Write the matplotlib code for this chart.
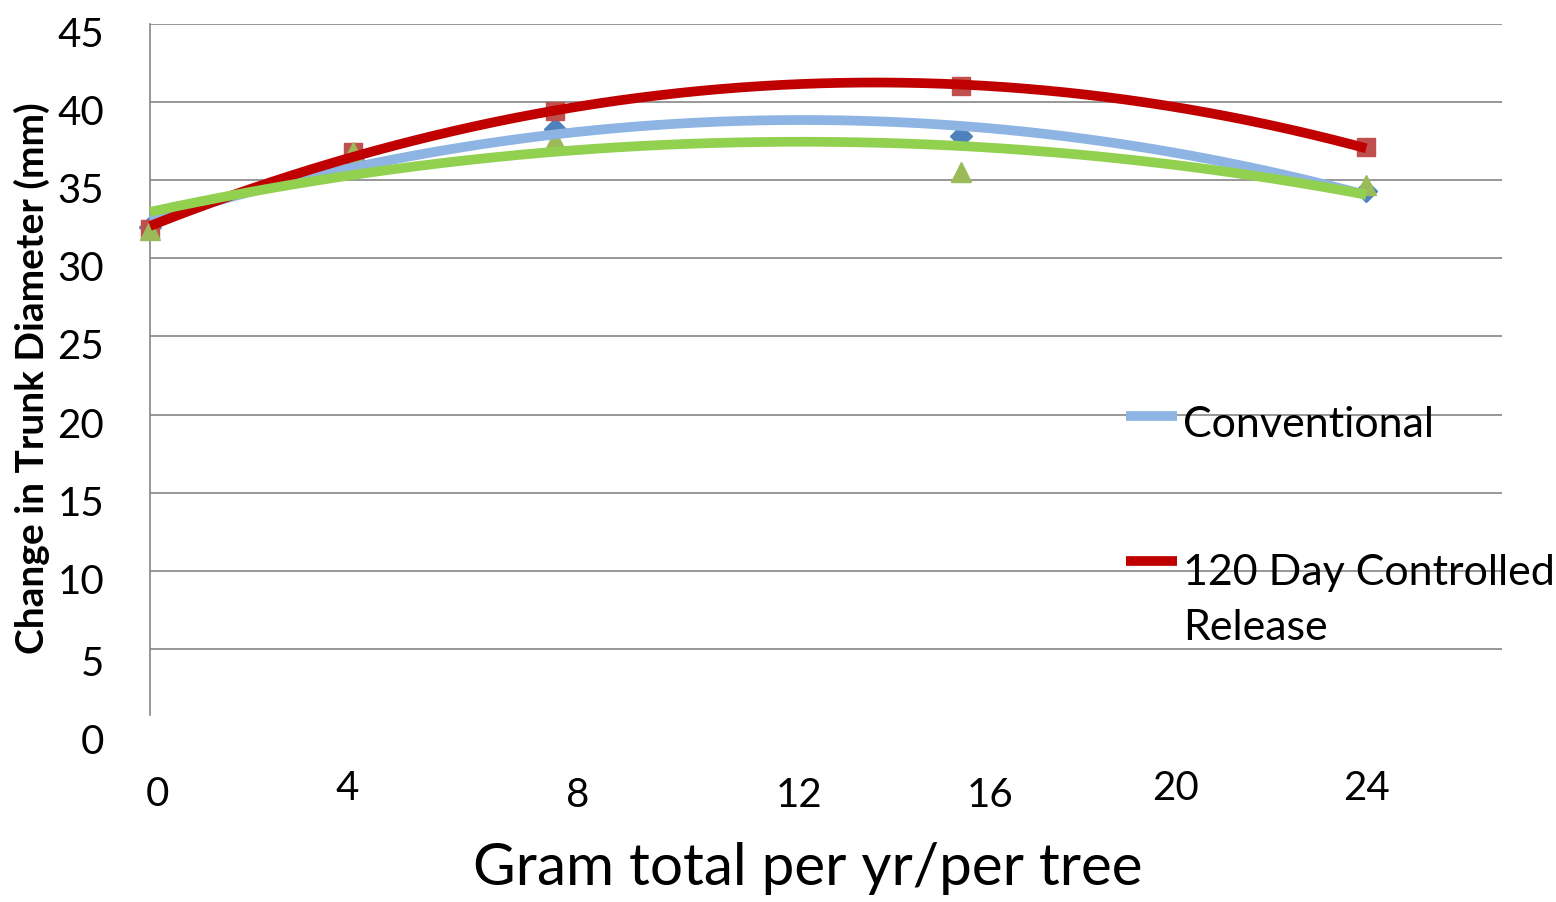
import numpy as np
import matplotlib
matplotlib.use("Agg")
import matplotlib.pyplot as plt
import matplotlib.transforms as mtransforms
from matplotlib.lines import Line2D

plt.rcParams['font.family'] = ['Lato', 'DejaVu Sans']

# ---- data ----
grams = [0, 4, 8, 16, 24]
conventional = [32.0, 36.3, 38.3, 37.8, 34.3]
controlled_120 = [31.9, 36.8, 39.4, 41.0, 37.1]
third_series = [31.8, 36.8, 37.6, 35.5, 34.7]

series_names = ["Conventional", "120 Day Controlled\nRelease"]
y_ticks = [0, 5, 10, 15, 20, 25, 30, 35, 40, 45]
x_tick_values = [0, 4, 8, 12, 16, 20, 24]
x_tick_labels = ["0", "4", "8", "12", "16", "20", "24"]

# ---- layout ----
W, H = 1556, 902
fig = plt.figure(figsize=(W / 100, H / 100), dpi=100)
ax_left, ax_right, ax_top, ax_bottom = 150, 1502, 24, 715
ax = fig.add_axes([ax_left / W, 1 - ax_bottom / H,
                   (ax_right - ax_left) / W, (ax_bottom - ax_top) / H])
ax.set_xlim(0, 26.68)
ax.set_ylim(0.77, 45)

grid_c = '#868686'
for s in ['top', 'right', 'bottom']:
    ax.spines[s].set_visible(False)
ax.spines['left'].set_color(grid_c)
ax.spines['left'].set_linewidth(1.2)
ax.set_yticks([t for t in y_ticks if t > 0])
ax.yaxis.grid(True, color=grid_c, linewidth=1.2)
ax.set_axisbelow(True)
ax.tick_params(left=False, bottom=False, labelleft=False, labelbottom=False)
ax.set_xticks([])

# markers
mk = dict(linestyle='none', clip_on=False, zorder=3)
ax.plot(grams, conventional, marker='D', markersize=11, color='#4F81BD', **mk)
ax.plot(grams, controlled_120, marker='s', markersize=13, color='#C0504D', **mk)
ax.plot(grams, third_series, marker='^', markersize=15, color='#9BBB59', **mk)

# polynomial (order 2) trendlines
xs = np.linspace(min(grams), max(grams), 300)
trend_cols = ['#8DB4E2', '#C00000', '#92D050']
for ys, c, z in zip([conventional, controlled_120, third_series], trend_cols, [4, 5, 6]):
    p = np.polyfit(grams, ys, 2)
    ax.plot(xs, np.polyval(p, xs), color=c, linewidth=7, solid_capstyle='butt', zorder=z, clip_on=False)

# y tick labels
for t in y_ticks:
    dy = 23 + (27 - 23) * (t <= 5)
    ytr = mtransforms.offset_copy(ax.get_yaxis_transform(), fig=fig, x=-46, y=-dy, units='dots')
    ax.text(0, t, str(t), transform=ytr, ha='right', va='baseline', fontsize=29, clip_on=False)

# x tick labels (hand-placed in the original)
label_shift_px = [7, -6, 22, 41, 29, 12, 0]
label_base_px = [91, 85, 92, 92, 92, 85, 85]
for v, lab, dx, dy in zip(x_tick_values, x_tick_labels, label_shift_px, label_base_px):
    tr = mtransforms.offset_copy(ax.get_xaxis_transform(), fig=fig, x=dx, y=-dy, units='dots')
    ax.text(v, 0, lab, transform=tr, ha='center', va='baseline', fontsize=29, clip_on=False)

# axis titles
fig.text(808 / W, 1 - 885 / H, "Gram total per yr/per tree", ha='center', va='baseline', fontsize=42)
fig.text(32 / W, 1 - 378 / H, "Change in Trunk Diameter (mm)", rotation=90, ha='center',
         va='center', fontsize=28, fontweight='bold')

# legend (no frame, drawn over gridlines)
fig.add_artist(Line2D([1126 / W, 1177 / W], [1 - 416 / H, 1 - 416 / H], color=trend_cols[0],
                      linewidth=7, solid_capstyle='butt', transform=fig.transFigure))
fig.add_artist(Line2D([1126 / W, 1177 / W], [1 - 561 / H, 1 - 561 / H], color=trend_cols[1],
                      linewidth=7, solid_capstyle='butt', transform=fig.transFigure))
fig.text(1183 / W, 1 - 437 / H, series_names[0], ha='left', va='baseline', fontsize=31)
fig.text(1183 / W, 1 - 640 / H, series_names[1], ha='left', va='baseline', fontsize=31,
         linespacing=1.55)

fig.savefig('out.png', dpi=100)
